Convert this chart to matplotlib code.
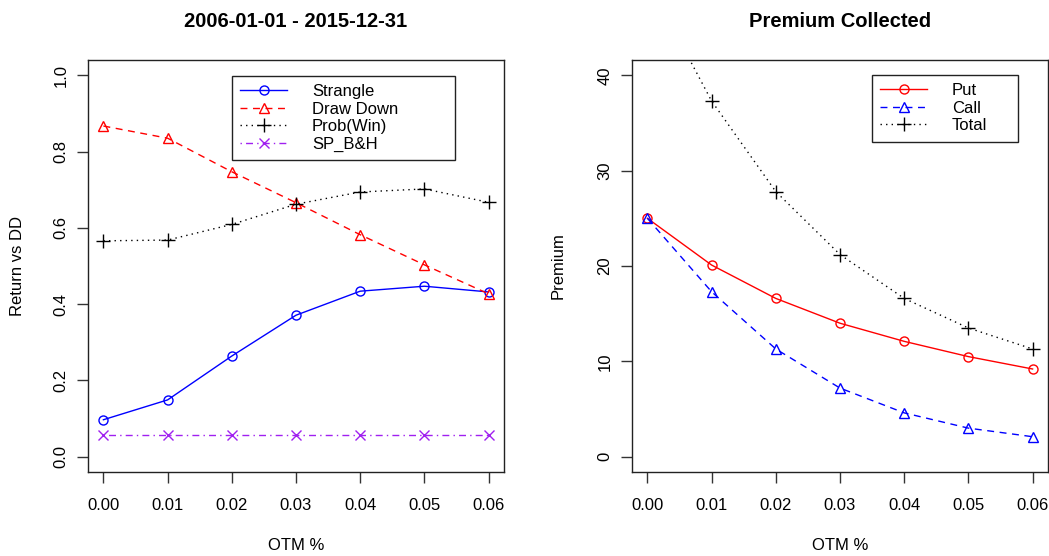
import matplotlib
matplotlib.use("Agg")
import matplotlib.pyplot as plt

plt.rcParams["font.family"] = ["Liberation Sans", "DejaVu Sans"]

# -----------------------------
# Data
# -----------------------------
otm = [0.00, 0.01, 0.02, 0.03, 0.04, 0.05, 0.06]
otm_ticks = ["0.00", "0.01", "0.02", "0.03", "0.04", "0.05", "0.06"]

strangle = [0.097, 0.149, 0.264, 0.371, 0.434, 0.447, 0.432]
draw_down = [0.867, 0.835, 0.747, 0.666, 0.582, 0.503, 0.427]
prob_win = [0.566, 0.568, 0.609, 0.662, 0.694, 0.702, 0.667]
sp_bh = [0.0575, 0.0575, 0.0575, 0.0575, 0.0575, 0.0575, 0.0575]

put = [25.0, 20.1, 16.6, 14.0, 12.1, 10.5, 9.2]
call = [25.0, 17.3, 11.3, 7.2, 4.6, 3.0, 2.1]
total = [50.0, 37.3, 27.8, 21.2, 16.6, 13.5, 11.3]

W, H = 1049, 556


def r_style(ax, xlim, ylim, yticks, yticklabels):
    ax.set_xlim(*xlim)
    ax.set_ylim(*ylim)
    ax.set_xticks(otm)
    ax.set_xticklabels(otm_ticks)
    ax.set_yticks(yticks)
    ax.set_yticklabels(yticklabels)
    ax.tick_params(direction="out", length=8, width=1.0, color="#333333",
                   labelsize=12, pad=11)
    ax.tick_params(axis="y", pad=6)
    plt.setp(ax.get_yticklabels(), rotation=90, va="center", ha="right")
    for s in ax.spines.values():
        s.set_linewidth(1.0)
        s.set_color("#222222")


def r_legend(ax, left, right, top):
    # legend box given in pixel coords of the figure, converted to axes fraction
    x0 = (left - 632 if ax is ax2 else left - 88) / 416
    x1 = (right - 632 if ax is ax2 else right - 88) / 416
    y1 = (472 - top) / 412
    leg = ax.legend(loc="upper left", bbox_to_anchor=(x0, y1 - 0.3, x1 - x0, 0.3),
                    mode="expand", fontsize=12, frameon=True, fancybox=False,
                    edgecolor="#222222", framealpha=1, handlelength=2.8,
                    handletextpad=1.5, labelspacing=0.15, borderpad=0.5,
                    borderaxespad=0)
    leg.get_frame().set_linewidth(1.0)
    return leg


fig = plt.figure(figsize=(W / 100, H / 100), dpi=100)

# left panel
ax1 = fig.add_axes([88 / W, (H - 472) / H, 416 / W, 412 / H])
ax2 = fig.add_axes([632 / W, (H - 472) / H, 416 / W, 412 / H])

ax1.plot(otm, strangle, color="blue", lw=1.0, marker="o", ms=6.5,
         mfc="none", mew=1.0, label="Strangle")
ax1.plot(otm, draw_down, color="red", lw=1.0, dashes=(5, 4), marker="^",
         ms=7.5, mfc="none", mew=1.0, label="Draw Down")
ax1.plot(otm, prob_win, color="black", lw=1.0, dashes=(1, 3), marker="+",
         ms=9.5, mew=1.0, label="Prob(Win)")
ax1.plot(otm, sp_bh, color="#A020F0", lw=1.0, dashes=(1, 3, 5, 3), marker="x",
         ms=6.5, mew=1.0, label="SP_B&H")
r_style(ax1, (-0.0024, 0.0624), (-0.04, 1.04),
        [0.0, 0.2, 0.4, 0.6, 0.8, 1.0], ["0.0", "0.2", "0.4", "0.6", "0.8", "1.0"])
ax1.set_title("2006-01-01 - 2015-12-31", fontsize=14.5, fontweight="bold", pad=24)
ax1.set_xlabel("OTM %", fontsize=12, va="center")
ax1.xaxis.set_label_coords(0.5, (472 - 545) / 412)
ax1.set_ylabel("Return vs DD", fontsize=12, va="center")
ax1.yaxis.set_label_coords((18 - 88) / 416, 0.5)
r_legend(ax1, 232, 455, 76)

# right panel
ax2.plot(otm, put, color="red", lw=1.0, marker="o", ms=6.5,
         mfc="none", mew=1.0, label="Put")
ax2.plot(otm, call, color="blue", lw=1.0, dashes=(5, 4), marker="^",
         ms=7.5, mfc="none", mew=1.0, label="Call")
ax2.plot(otm, total, color="black", lw=1.0, dashes=(1, 3), marker="+",
         ms=9.5, mew=1.0, label="Total")
r_style(ax2, (-0.0024, 0.0624), (-1.6, 41.6),
        [0, 10, 20, 30, 40], ["0", "10", "20", "30", "40"])
ax2.set_title("Premium Collected", fontsize=14.5, fontweight="bold", pad=24)
ax2.set_xlabel("OTM %", fontsize=12, va="center")
ax2.xaxis.set_label_coords(0.5, (472 - 545) / 412)
ax2.set_ylabel("Premium", fontsize=12, va="center")
ax2.yaxis.set_label_coords((558 - 632) / 416, 0.5)
r_legend(ax2, 872, 1018, 75)

fig.savefig("out.png", dpi=100, facecolor="white")
